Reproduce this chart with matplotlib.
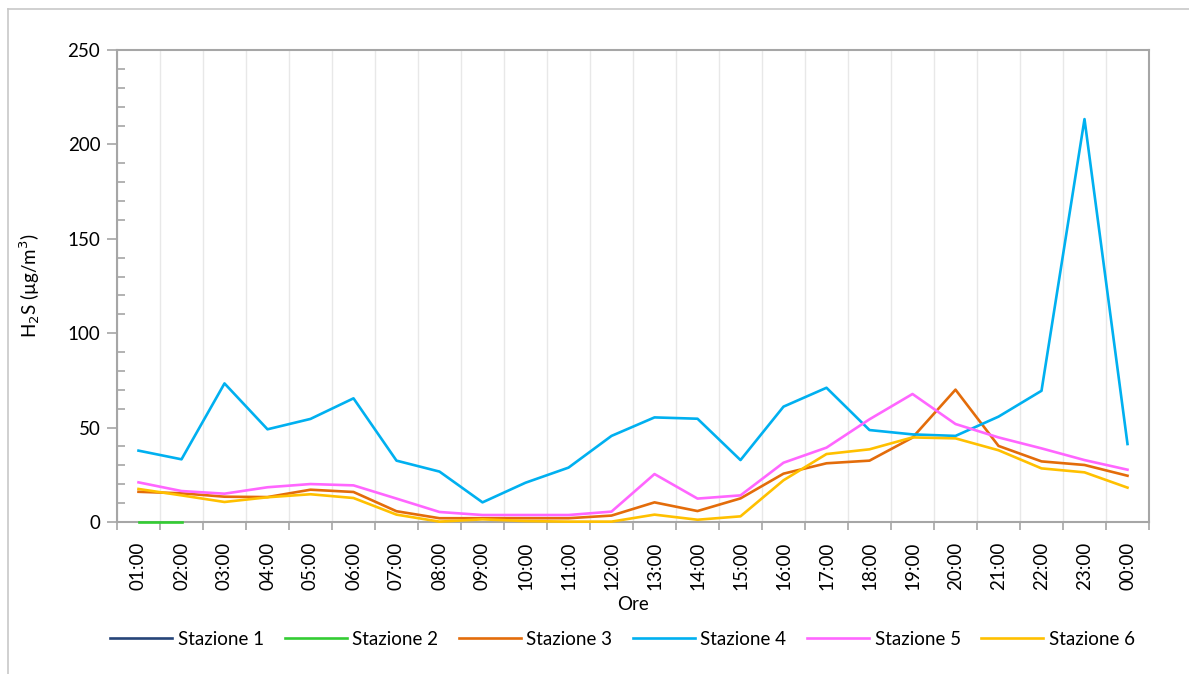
import numpy as np
import matplotlib
matplotlib.use('Agg')
from matplotlib import pyplot as plt
from matplotlib.lines import Line2D
from matplotlib.ticker import MultipleLocator

plt.rcParams['font.family'] = ['Lato', 'DejaVu Sans']

ore = ['01:00', '02:00', '03:00', '04:00', '05:00', '06:00', '07:00', '08:00',
       '09:00', '10:00', '11:00', '12:00', '13:00', '14:00', '15:00', '16:00',
       '17:00', '18:00', '19:00', '20:00', '21:00', '22:00', '23:00', '00:00']

nan = np.nan
stazione_1 = [nan] * 24
stazione_2 = [0, 0] + [nan] * 22
stazione_3 = [16, 15.2, 13.4, 13.2, 17.1, 15.9, 5.7, 2.0, 2.0, 2.0, 2.0, 3.4,
              10.4, 5.8, 12.5, 25.6, 31.1, 32.5, 44.7, 70.1, 40.3, 32.1, 30.2, 24.5]
stazione_4 = [37.8, 33.2, 73.4, 49.1, 54.6, 65.5, 32.5, 26.7, 10.4, 20.8, 28.8, 45.6,
              55.4, 54.7, 32.8, 61.1, 71.1, 48.7, 46.4, 45.6, 55.8, 69.5, 213.4, 41.3]
stazione_5 = [21.0, 16.4, 15.0, 18.4, 20.1, 19.4, 12.4, 5.3, 3.7, 3.7, 3.7, 5.5,
              25.4, 12.4, 14.1, 31.4, 39.4, 54.4, 67.8, 51.9, 44.8, 39.0, 32.8, 27.7]
stazione_6 = [17.5, 14.1, 10.6, 13.1, 14.7, 12.7, 3.9, 0.2, 1.4, 0.5, 0.2, 0.2,
              3.9, 1.2, 3.0, 22.1, 36.0, 38.5, 44.8, 44.3, 38.0, 28.4, 26.3, 18.2]

serie = [('Stazione 1', stazione_1, '#264478'),
         ('Stazione 2', stazione_2, '#33CC33'),
         ('Stazione 3', stazione_3, '#E36C0A'),
         ('Stazione 4', stazione_4, '#00B0F0'),
         ('Stazione 5', stazione_5, '#FF66FF'),
         ('Stazione 6', stazione_6, '#FFC000')]

fig = plt.figure(figsize=(11.89, 6.74), dpi=100)
ax = fig.add_axes([117/1189, 1 - 522/674, (1149-117)/1189, (522-50)/674])

x = np.arange(len(ore))
for nome, valori, colore in serie:
    ax.plot(x, valori, color=colore, lw=1.9, label=nome, clip_on=False, zorder=3)

grigio = '#A6A6A6'
ax.set_xlim(-0.5, len(ore) - 0.5)
ax.set_ylim(0, 250)
ax.set_xticks(x)
ax.set_xticklabels(ore, rotation=90, fontsize=13.5)
ax.set_xticks(np.arange(-0.5, len(ore)), minor=True)
ax.tick_params(axis='x', which='major', length=0, pad=14)
ax.tick_params(axis='x', which='minor', length=6, color=grigio, width=1.2)
ax.grid(axis='x', which='minor', color='#E8E8E8', lw=1)

ax.yaxis.set_major_locator(MultipleLocator(50))
ax.yaxis.set_minor_locator(MultipleLocator(10))
ax.tick_params(axis='y', which='major', length=7, direction='out', color=grigio, width=1.2,
               labelsize=13.5, pad=5)
ax.tick_params(axis='y', which='minor', length=6, direction='in', color=grigio, width=1.2)

for s in ax.spines.values():
    s.set_color(grigio)
    s.set_linewidth(1.5)
    s.set_zorder(2)

ax.set_ylabel('H$_2$S (µg/m$^3$)', fontsize=13.5, labelpad=18)
ax.set_xlabel('Ore', fontsize=13.5, labelpad=4)

ax.legend(loc='upper center', bbox_to_anchor=(0.49, -0.195), ncol=6, frameon=False,
          fontsize=13.5, handlelength=3.3, columnspacing=1.1, handletextpad=0.3)

# cornice esterna del grafico
fig.add_artist(Line2D([8/1189, 8/1189], [0, 1 - 9/674], color='#C8C8C8', lw=1.2))
fig.add_artist(Line2D([8/1189, 1], [1 - 9/674, 1 - 9/674], color='#C8C8C8', lw=1.2))

fig.savefig('out.png', dpi=100)
